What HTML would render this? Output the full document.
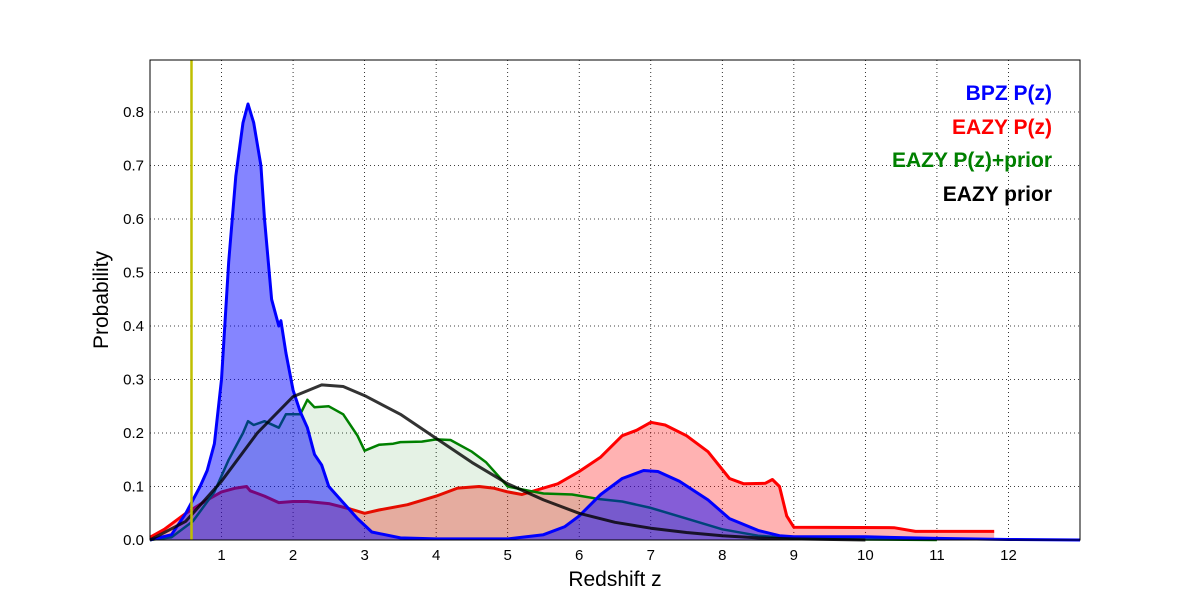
<!DOCTYPE html>
<html><head><meta charset="utf-8"><style>
body{margin:0;background:#fff;}
svg{display:block;font-family:"Liberation Sans",sans-serif;}
</style></head><body>
<svg id="chart" width="1200" height="600"></svg>
<script>
const bpzZ=[0,0.3,0.5,0.7,0.8,0.9,1.0,1.1,1.2,1.3,1.37,1.45,1.55,1.6,1.7,1.8,1.83,1.9,2.0,2.1,2.2,2.3,2.4,2.5,2.7,2.9,3.1,3.5,4,5,5.5,5.8,6.0,6.3,6.6,6.9,7.1,7.4,7.8,8.1,8.5,8.8,9.0,10,11,12,13];
const bpzP=[0,0.01,0.05,0.1,0.13,0.18,0.3,0.52,0.68,0.78,0.815,0.78,0.7,0.6,0.45,0.4,0.41,0.35,0.28,0.24,0.21,0.16,0.14,0.1,0.07,0.04,0.015,0.004,0.002,0.002,0.01,0.025,0.045,0.085,0.115,0.13,0.128,0.11,0.075,0.04,0.018,0.008,0.006,0.006,0.003,0.001,0];
const eazyZ=[0,0.2,0.5,0.8,1.0,1.2,1.35,1.4,1.6,1.8,2.0,2.2,2.5,2.8,3.0,3.2,3.6,4.0,4.3,4.6,4.8,5.0,5.2,5.4,5.7,6.0,6.3,6.6,6.8,7.0,7.2,7.5,7.8,8.1,8.3,8.6,8.7,8.8,8.9,9.0,10.4,10.7,11.8];
const eazyP=[0.005,0.02,0.05,0.075,0.09,0.097,0.1,0.092,0.082,0.07,0.072,0.072,0.068,0.058,0.05,0.056,0.066,0.082,0.097,0.1,0.097,0.09,0.085,0.093,0.105,0.128,0.155,0.195,0.205,0.22,0.215,0.195,0.165,0.115,0.105,0.106,0.113,0.1,0.045,0.024,0.023,0.016,0.016];
const priorZ=[0,0.3,0.6,0.9,1.1,1.3,1.37,1.45,1.6,1.8,1.9,2.1,2.2,2.3,2.5,2.7,2.9,3.0,3.2,3.4,3.5,3.8,4.0,4.2,4.5,4.7,5.0,5.3,5.5,5.9,6.3,6.6,7.0,7.5,8,8.5,9,10,11];
const priorP=[0,0.005,0.035,0.09,0.15,0.2,0.222,0.215,0.222,0.21,0.235,0.235,0.262,0.248,0.25,0.235,0.195,0.167,0.178,0.18,0.183,0.184,0.188,0.187,0.165,0.145,0.1,0.092,0.087,0.085,0.076,0.072,0.06,0.04,0.02,0.008,0.003,0.001,0];
const pz=[0,0.5,1,1.5,2,2.4,2.7,3,3.5,4,4.5,5,5.5,6,6.5,7,7.5,8,8.5,9,10];
const pp=[0,0.035,0.11,0.2,0.268,0.29,0.287,0.27,0.235,0.19,0.145,0.105,0.075,0.05,0.033,0.022,0.014,0.008,0.004,0.002,0];
const xTicks=[1,2,3,4,5,6,7,8,9,10,11,12];
const yTicks=[0.0,0.1,0.2,0.3,0.4,0.5,0.6,0.7,0.8];
const zMarker=0.58;
const L=150,R=1080,T=60,B=540,XMAX=13,YMAX=0.8972;
const X=v=>L+v/XMAX*(R-L), Y=v=>B-v/YMAX*(B-T);
const svg=document.getElementById('chart');
const NS='http://www.w3.org/2000/svg';
function mk(t,a,parent){const e=document.createElementNS(NS,t);for(const k in a)e.setAttribute(k,a[k]);(parent||svg).appendChild(e);return e;}
// grid
xTicks.forEach(t=>{const g=mk('line',{x1:X(t),x2:X(t),y1:T,y2:B,stroke:'#000','stroke-dasharray':'1,3','stroke-width':0.8});


const l=mk('text',{x:X(t),y:B+20,'text-anchor':'middle','font-size':15});l.textContent=t;

});
yTicks.forEach(t=>{const g=mk('line',{x1:L,x2:R,y1:Y(t),y2:Y(t),stroke:'#000','stroke-dasharray':'1,3','stroke-width':0.8});


const l=mk('text',{x:L-6,y:Y(t)+5,'text-anchor':'end','font-size':15});l.textContent=t.toFixed(1);

});
function series(zs,ps,stroke,fill,name,w){
  const pts=zs.map((z,i)=>X(z).toFixed(1)+','+Y(ps[i]).toFixed(1));
  if(fill){const f=mk('path',{d:'M'+X(zs[0])+','+Y(0)+' L'+pts.join(' L')+' L'+X(zs[zs.length-1])+','+Y(0)+'Z',fill:fill,stroke:'none'});
  
  }
  const p=mk('polyline',{points:pts.join(' '),fill:'none',stroke:stroke,'stroke-width':w,'stroke-linejoin':'round'});
  
  
}
series(eazyZ,eazyP,'#ff0000','rgba(255,0,0,0.3)','eazy-pz',3);
series(priorZ,priorP,'#008000','rgba(0,128,0,0.1)','eazy-pz-prior',2.5);
series(bpzZ,bpzP,'#0000ff','rgba(0,0,255,0.48)','bpz-pz',3);
series(pz,pp,'#000','none','eazy-prior',3);
svg.lastChild.setAttribute('stroke-opacity','0.8');
const ym=mk('line',{x1:X(zMarker),x2:X(zMarker),y1:T,y2:B,stroke:'#bfbf00','stroke-width':2.5});


const fr=mk('rect',{x:L,y:T,width:R-L,height:B-T,fill:'none',stroke:'#000','stroke-width':1});


const leg=[['BPZ P(z)','#0000ff',100],['EAZY P(z)','#ff0000',134],['EAZY P(z)+prior','#008000',167],['EAZY prior','#000',201]];
leg.forEach(a=>{const t=mk('text',{x:1052,y:a[2],'text-anchor':'end','font-size':21,'font-weight':'bold',fill:a[1]});t.textContent=a[0];

});
const xt=mk('text',{x:615,y:586,'text-anchor':'middle','font-size':21});xt.textContent='Redshift z';


const yt=mk('text',{x:108,y:300,'text-anchor':'middle','font-size':21,transform:'rotate(-90 108 300)'});yt.textContent='Probability';


</script>
</body></html>
